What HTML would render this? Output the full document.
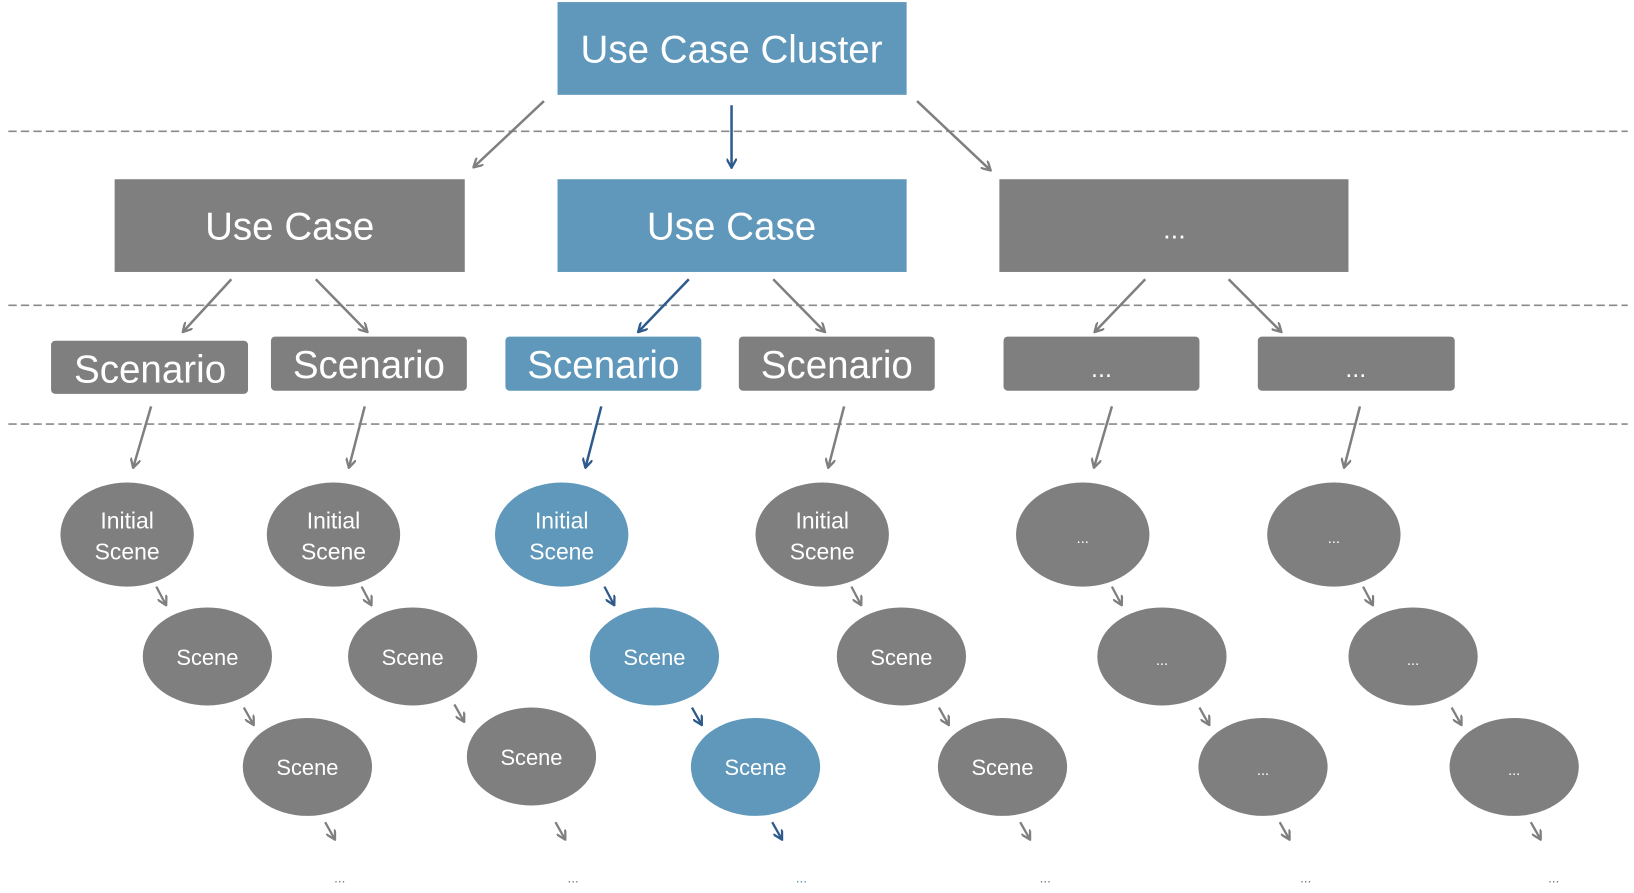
<!DOCTYPE html>
<html><head><meta charset="utf-8"><style>
html,body{margin:0;padding:0;background:#fff;}
svg{display:block;}
text{font-family:"Liberation Sans",sans-serif;fill:#fff;text-anchor:middle;}
</style></head><body>
<svg width="1634" height="893" viewBox="0 0 1568 857" preserveAspectRatio="none" xmlns="http://www.w3.org/2000/svg">
<defs>
<marker id="g" markerWidth="10" markerHeight="10" refX="8" refY="5" orient="auto" markerUnits="userSpaceOnUse"><path d="M0,0 L9,5 L0,10" fill="none" stroke="#7f7f7f" stroke-width="2.2"/></marker>
<marker id="b" markerWidth="10" markerHeight="10" refX="8" refY="5" orient="auto" markerUnits="userSpaceOnUse"><path d="M0,0 L9,5 L0,10" fill="none" stroke="#2e5a8c" stroke-width="2.2"/></marker>
</defs>
<g stroke="#8a8a8a" stroke-width="1.6" stroke-dasharray="8,4">
<line x1="8" y1="126" x2="1562" y2="126"/><line x1="8" y1="293" x2="1562" y2="293"/><line x1="8" y1="407" x2="1562" y2="407"/>
</g>
<rect x="535" y="2" width="335" height="89" fill="#5f98bb"/>
<text x="702" y="60" font-size="37">Use Case Cluster</text>
<g stroke-width="2.4" fill="none">
<line x1="522" y1="97" x2="455" y2="160" stroke="#7f7f7f" marker-end="url(#g)"/>
<line x1="702" y1="101" x2="702" y2="160" stroke="#2e5a8c" marker-end="url(#b)"/>
<line x1="880" y1="97" x2="950" y2="163" stroke="#7f7f7f" marker-end="url(#g)"/>
<line x1="222" y1="268" x2="176" y2="318" stroke="#7f7f7f" marker-end="url(#g)"/>
<line x1="303" y1="268" x2="352" y2="318" stroke="#7f7f7f" marker-end="url(#g)"/>
<line x1="661" y1="268" x2="613" y2="318" stroke="#2e5a8c" marker-end="url(#b)"/>
<line x1="742" y1="268" x2="791" y2="318" stroke="#7f7f7f" marker-end="url(#g)"/>
<line x1="1099" y1="268" x2="1051" y2="318" stroke="#7f7f7f" marker-end="url(#g)"/>
<line x1="1179" y1="268" x2="1229" y2="318" stroke="#7f7f7f" marker-end="url(#g)"/>
<line x1="145" y1="390" x2="128" y2="448" stroke="#7f7f7f" marker-end="url(#g)"/>
<line x1="350" y1="390" x2="335" y2="448" stroke="#7f7f7f" marker-end="url(#g)"/>
<line x1="577" y1="390" x2="562" y2="448" stroke="#2e5a8c" marker-end="url(#b)"/>
<line x1="810" y1="390" x2="795" y2="448" stroke="#7f7f7f" marker-end="url(#g)"/>
<line x1="1067" y1="390" x2="1050" y2="448" stroke="#7f7f7f" marker-end="url(#g)"/>
<line x1="1305" y1="390" x2="1290" y2="448" stroke="#7f7f7f" marker-end="url(#g)"/>
</g>
<rect x="110" y="172" width="336" height="89" fill="#7f7f7f"/>
<text x="278" y="230" font-size="37">Use Case</text>
<rect x="535" y="172" width="335" height="89" fill="#5f98bb"/>
<text x="702" y="230" font-size="37">Use Case</text>
<rect x="959" y="172" width="335" height="89" fill="#7f7f7f"/>
<text x="1127" y="229" font-size="26">...</text>
<rect x="49" y="327" width="189" height="51" rx="4" fill="#7f7f7f"/>
<text x="144" y="367" font-size="37">Scenario</text>
<rect x="260" y="323" width="188" height="52" rx="4" fill="#7f7f7f"/>
<text x="354" y="363" font-size="37">Scenario</text>
<rect x="485" y="323" width="188" height="52" rx="4" fill="#5f98bb"/>
<text x="579" y="363" font-size="37">Scenario</text>
<rect x="709" y="323" width="188" height="52" rx="4" fill="#7f7f7f"/>
<text x="803" y="363" font-size="37">Scenario</text>
<rect x="963" y="323" width="188" height="52" rx="4" fill="#7f7f7f"/>
<text x="1057" y="362" font-size="24">...</text>
<rect x="1207" y="323" width="189" height="52" rx="4" fill="#7f7f7f"/>
<text x="1301" y="362" font-size="24">...</text>
<g font-size="22">
<ellipse cx="122" cy="513" rx="64" ry="50" fill="#7f7f7f"/><text x="122" y="507">Initial</text><text x="122" y="537">Scene</text>
<ellipse cx="320" cy="513" rx="64" ry="50" fill="#7f7f7f"/><text x="320" y="507">Initial</text><text x="320" y="537">Scene</text>
<ellipse cx="539" cy="513" rx="64" ry="50" fill="#5f98bb"/><text x="539" y="507">Initial</text><text x="539" y="537">Scene</text>
<ellipse cx="789" cy="513" rx="64" ry="50" fill="#7f7f7f"/><text x="789" y="507">Initial</text><text x="789" y="537">Scene</text>
<ellipse cx="1039" cy="513" rx="64" ry="50" fill="#7f7f7f"/><text x="1039" y="521" font-size="14">...</text>
<ellipse cx="1280" cy="513" rx="64" ry="50" fill="#7f7f7f"/><text x="1280" y="521" font-size="14">...</text>
<ellipse cx="199" cy="630" rx="62" ry="47" fill="#7f7f7f"/><text x="199" y="638" font-size="21">Scene</text>
<ellipse cx="396" cy="630" rx="62" ry="47" fill="#7f7f7f"/><text x="396" y="638" font-size="21">Scene</text>
<ellipse cx="628" cy="630" rx="62" ry="47" fill="#5f98bb"/><text x="628" y="638" font-size="21">Scene</text>
<ellipse cx="865" cy="630" rx="62" ry="47" fill="#7f7f7f"/><text x="865" y="638" font-size="21">Scene</text>
<ellipse cx="1115" cy="630" rx="62" ry="47" fill="#7f7f7f"/><text x="1115" y="638" font-size="14">...</text>
<ellipse cx="1356" cy="630" rx="62" ry="47" fill="#7f7f7f"/><text x="1356" y="638" font-size="14">...</text>
<ellipse cx="295" cy="736" rx="62" ry="47" fill="#7f7f7f"/><text x="295" y="744" font-size="21">Scene</text>
<ellipse cx="510" cy="726" rx="62" ry="47" fill="#7f7f7f"/><text x="510" y="734" font-size="21">Scene</text>
<ellipse cx="725" cy="736" rx="62" ry="47" fill="#5f98bb"/><text x="725" y="744" font-size="21">Scene</text>
<ellipse cx="962" cy="736" rx="62" ry="47" fill="#7f7f7f"/><text x="962" y="744" font-size="21">Scene</text>
<ellipse cx="1212" cy="736" rx="62" ry="47" fill="#7f7f7f"/><text x="1212" y="744" font-size="14">...</text>
<ellipse cx="1453" cy="736" rx="62" ry="47" fill="#7f7f7f"/><text x="1453" y="744" font-size="14">...</text>
</g>
<g stroke-width="2.2" fill="none">
<line x1="150" y1="563" x2="159" y2="580" stroke="#7f7f7f" marker-end="url(#g)"/>
<line x1="347" y1="563" x2="356" y2="580" stroke="#7f7f7f" marker-end="url(#g)"/>
<line x1="580" y1="563" x2="589" y2="580" stroke="#2e5a8c" marker-end="url(#b)"/>
<line x1="817" y1="563" x2="826" y2="580" stroke="#7f7f7f" marker-end="url(#g)"/>
<line x1="1067" y1="563" x2="1076" y2="580" stroke="#7f7f7f" marker-end="url(#g)"/>
<line x1="1308" y1="563" x2="1317" y2="580" stroke="#7f7f7f" marker-end="url(#g)"/>
<line x1="234" y1="679" x2="243" y2="695" stroke="#7f7f7f" marker-end="url(#g)"/>
<line x1="436" y1="676" x2="445" y2="692" stroke="#7f7f7f" marker-end="url(#g)"/>
<line x1="664" y1="679" x2="673" y2="695" stroke="#2e5a8c" marker-end="url(#b)"/>
<line x1="901" y1="679" x2="910" y2="695" stroke="#7f7f7f" marker-end="url(#g)"/>
<line x1="1151" y1="679" x2="1160" y2="695" stroke="#7f7f7f" marker-end="url(#g)"/>
<line x1="1393" y1="679" x2="1402" y2="695" stroke="#7f7f7f" marker-end="url(#g)"/>
<line x1="312" y1="789" x2="321" y2="805" stroke="#7f7f7f" marker-end="url(#g)"/>
<line x1="533" y1="789" x2="542" y2="805" stroke="#7f7f7f" marker-end="url(#g)"/>
<line x1="741" y1="789" x2="750" y2="805" stroke="#2e5a8c" marker-end="url(#b)"/>
<line x1="979" y1="789" x2="988" y2="805" stroke="#7f7f7f" marker-end="url(#g)"/>
<line x1="1228" y1="789" x2="1237" y2="805" stroke="#7f7f7f" marker-end="url(#g)"/>
<line x1="1469" y1="789" x2="1478" y2="805" stroke="#7f7f7f" marker-end="url(#g)"/>
</g>
<g font-size="13">
<text x="326" y="847" style="fill:#7f7f7f">...</text>
<text x="550" y="847" style="fill:#7f7f7f">...</text>
<text x="769" y="847" style="fill:#5f98bb">...</text>
<text x="1003" y="847" style="fill:#7f7f7f">...</text>
<text x="1253" y="847" style="fill:#7f7f7f">...</text>
<text x="1491" y="847" style="fill:#7f7f7f">...</text>
</g>
</svg>
</body></html>
